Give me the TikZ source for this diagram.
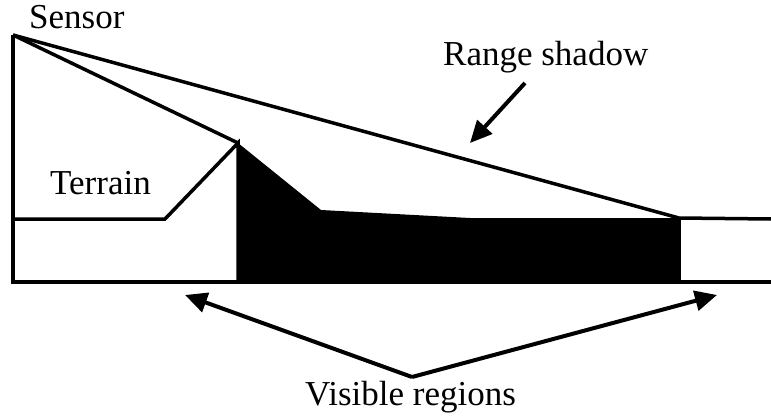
\documentclass[tikz,border=0pt]{standalone}
\usepackage{fontspec}
\setmainfont{Liberation Serif}
\usetikzlibrary{arrows.meta}
\begin{document}
\begin{tikzpicture}[x=1pt,y=-1pt,
  outline/.style={line width=3.5pt,line join=miter,line cap=butt},
  pointer/.style={line width=4pt,-{Triangle[length=22pt,width=20pt]}},
  lbl/.style={inner sep=0pt,anchor=base west,font=\fontsize{35}{37}\selectfont}]
\useasboundingbox (0,0) rectangle (771,417);
% key points
\coordinate (sensor) at (13,35);
\coordinate (lowL) at (13,282);
\coordinate (flatL) at (13,219);
\coordinate (knee) at (165,219);
\coordinate (peak) at (238,143);
\coordinate (peakB) at (238,282);
\coordinate (s1) at (321,210);
\coordinate (s2) at (470,218);
\coordinate (far) at (679,218);
\coordinate (farB) at (679,282);
\coordinate (rightT) at (771,219);
\coordinate (rightB) at (771,282);
% shadow
\fill[black] (peak) -- (s1) -- (s2) -- (far) -- (farB) -- (peakB) -- cycle;
% outlines
\draw[outline] (sensor) -- (lowL) -- (rightB);
\draw[outline] (flatL) -- (knee) -- (peak) -- (peakB);
\draw[outline] (sensor) -- (peak);
\draw[outline] (sensor) -- (far) -- (rightT);
\draw[outline] (far) -- (farB);
% labels
\node[lbl] (lsensor) at (29,29) {Sensor};
\node[lbl] (lterrain) at (50,194) {Terrain};
\node[lbl] (lrange) at (443,66) {Range shadow};
\node[lbl] (lvisible) at (305,405) {Visible regions};
% arrows
\coordinate (rtail) at (525,83);
\coordinate (rtip) at (470,143);
\draw[pointer] (rtail) -- (rtip);
\coordinate (vjoin) at (412,377);
\coordinate (vleft) at (185,295);
\coordinate (vright) at (717,295);
\draw[pointer] (vjoin) -- (vleft);
\draw[pointer] (vjoin) -- (vright);
\end{tikzpicture}
\end{document}
